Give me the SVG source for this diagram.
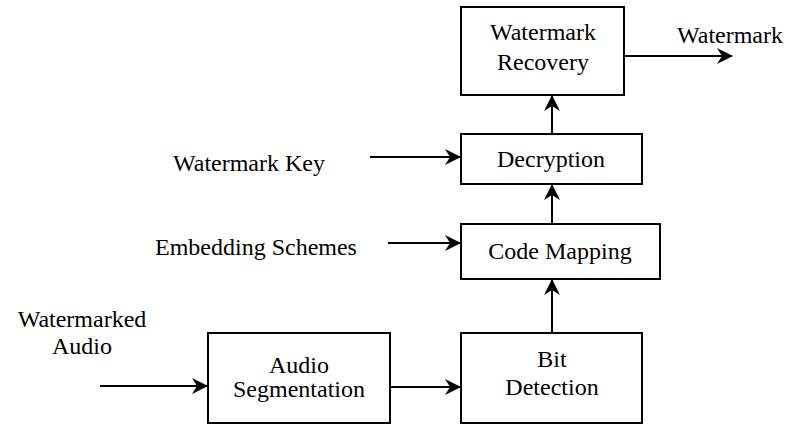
<svg xmlns="http://www.w3.org/2000/svg" width="791" height="424" viewBox="0 0 791 424" font-family="'Liberation Serif', serif" font-size="24">
  <defs>
    <marker id="head" viewBox="0 0 16 16" refX="15" refY="8" markerWidth="16" markerHeight="16" markerUnits="userSpaceOnUse" orient="auto">
      <path d="M0,0 L16,8 L0,16 L5,8 Z" fill="#000"/>
    </marker>
  </defs>

  <!-- arrows between blocks and from the side inputs -->
  <g id="connectors" fill="none" stroke="#000" stroke-width="2" marker-end="url(#head)">
    <line x1="624" y1="56" x2="732" y2="56"/>
    <line x1="552" y1="134" x2="552" y2="96"/>
    <line x1="552" y1="224" x2="552" y2="185"/>
    <line x1="552" y1="333" x2="552" y2="280"/>
    <line x1="370" y1="157" x2="460" y2="157"/>
    <line x1="388" y1="243" x2="460" y2="243"/>
    <line x1="390" y1="387" x2="460" y2="387"/>
    <line x1="100" y1="386" x2="207" y2="386"/>
  </g>

  <g id="recovery">
    <rect x="461" y="7" width="163" height="88" fill="#fff" stroke="#000" stroke-width="2"/>
    <text x="543" y="40" text-anchor="middle" font-family="'Liberation Serif', serif">Watermark</text>
    <text x="543" y="70" text-anchor="middle" font-family="'Liberation Serif', serif">Recovery</text>
  </g>

  <g id="decryption">
    <rect x="461" y="134" width="181" height="50" fill="#fff" stroke="#000" stroke-width="2"/>
    <text x="551" y="167" text-anchor="middle" font-family="'Liberation Serif', serif">Decryption</text>
  </g>

  <g id="code-mapping">
    <rect x="461" y="224" width="199" height="55" fill="#fff" stroke="#000" stroke-width="2"/>
    <text x="560" y="259" text-anchor="middle" font-family="'Liberation Serif', serif">Code Mapping</text>
  </g>

  <g id="bit-detection">
    <rect x="461" y="333" width="181" height="90" fill="#fff" stroke="#000" stroke-width="2"/>
    <text x="552" y="367" text-anchor="middle" font-family="'Liberation Serif', serif">Bit</text>
    <text x="552" y="395" text-anchor="middle" font-family="'Liberation Serif', serif">Detection</text>
  </g>

  <g id="audio-segmentation">
    <rect x="208" y="333" width="182" height="90" fill="#fff" stroke="#000" stroke-width="2"/>
    <text x="299" y="373" text-anchor="middle" font-family="'Liberation Serif', serif">Audio</text>
    <text x="299" y="397" text-anchor="middle" font-family="'Liberation Serif', serif">Segmentation</text>
  </g>

  <g id="inputs">
    <text x="677" y="43" font-family="'Liberation Serif', serif">Watermark</text>
    <text x="173" y="171" font-family="'Liberation Serif', serif">Watermark Key</text>
    <text x="155" y="255" font-family="'Liberation Serif', serif">Embedding Schemes</text>
    <text x="82" y="327" text-anchor="middle" font-family="'Liberation Serif', serif">Watermarked</text>
    <text x="82" y="354" text-anchor="middle" font-family="'Liberation Serif', serif">Audio</text>
  </g>
</svg>
